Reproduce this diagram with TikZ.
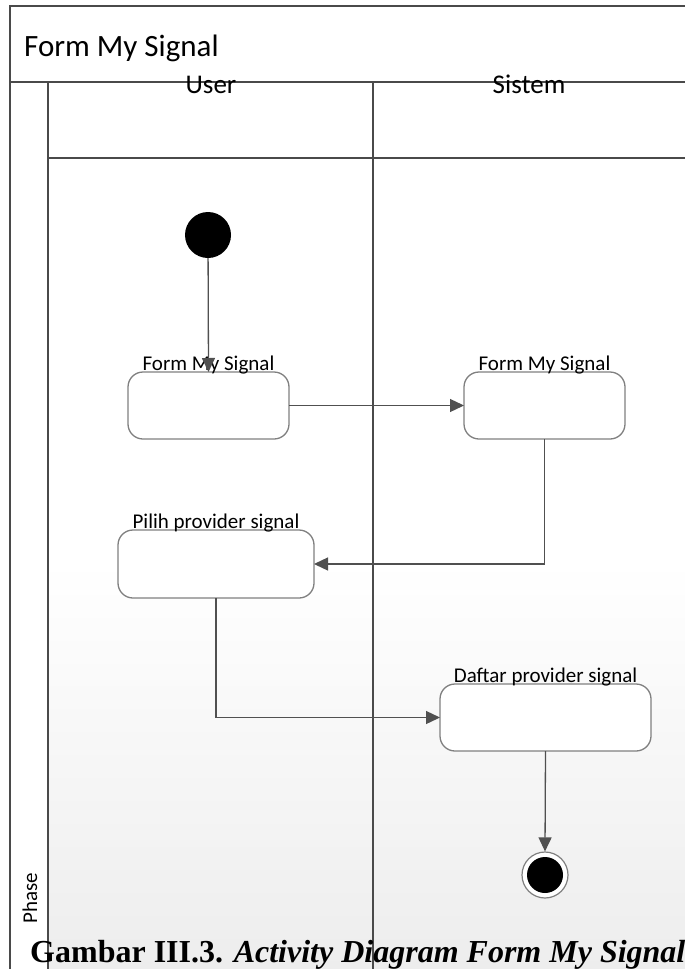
\documentclass[tikz,border=0pt]{standalone}
\usepackage{fontspec}
\setmainfont{Liberation Serif}
\newfontfamily\calfont{Carlito}
\usetikzlibrary{arrows.meta}
\definecolor{frameline}{HTML}{4A4A4A}
\definecolor{conn}{HTML}{505050}
\definecolor{boxline}{HTML}{808080}
\tikzset{
  frame/.style={draw=frameline, line width=1.3pt},
  actbox/.style={draw=boxline, line width=1.3pt, rounded corners=15pt, fill=white,
    inner sep=0pt, outer sep=0pt},
  actlabel/.style={font=\calfont\fontsize{21}{24}\selectfont, inner sep=0pt, anchor=base},
  flow/.style={draw=conn, line width=1.3pt, -{Triangle[length=14pt,width=13pt]}},
  startnode/.style={circle, fill=black, minimum size=46pt, inner sep=0pt},
  endring/.style={circle, draw=boxline, line width=1.2pt, fill=white, minimum size=46pt, inner sep=0pt},
}
\begin{document}
\begin{tikzpicture}[x=1pt,y=-1pt]
\useasboundingbox (0,0) rectangle (685,969);
% background gradient of the lanes
\shade[top color=white, bottom color=black!7] (48,560) rectangle (685,969);
% frame
\draw[frame] (10,969) -- (10,6) -- (685,6);
\draw[frame] (10,82) -- (685,82);
\draw[frame] (48,158) -- (685,158);
\draw[frame] (48,82) -- (48,969);
\draw[frame] (373,82) -- (373,969);
% titles
\node[font=\calfont\fontsize{31}{35}\selectfont, anchor=base west, inner sep=0pt] (title) at (24,56) {Form My Signal};
\node[font=\calfont\fontsize{27}{31}\selectfont, anchor=base, inner sep=0pt] (user) at (211,93) {User};
\node[font=\calfont\fontsize{27}{31}\selectfont, anchor=base, inner sep=0pt] (sistem) at (529,93) {Sistem};
\node[font=\calfont\fontsize{21}{24}\selectfont, rotate=90, anchor=base, inner sep=0pt] (phase) at (37,898) {Phase};
% start
\node[startnode] (start) at (208,235) {};
% actions
\node[actbox, minimum width=161pt, minimum height=67pt] (a1) at (208.5,405.5) {};
\node[actbox, minimum width=161pt, minimum height=67pt] (a2) at (544.5,405.5) {};
\node[actbox, minimum width=196pt, minimum height=68pt] (a3) at (216,564) {};
\node[actbox, minimum width=211pt, minimum height=67pt] (a4) at (545.5,717.5) {};
% final
\node[endring] (final) at (545,875) {};
\node[circle, fill=black, minimum size=36pt, inner sep=0pt] (finaldot) at (final) {};
% labels
\node[actlabel] (l1) at ([yshift=2pt]a1.north) {Form My Signal};
\node[actlabel] (l2) at ([yshift=2pt]a2.north) {Form My Signal};
\node[actlabel] (l3) at ([yshift=2pt]a3.north) {Pilih provider signal};
\node[actlabel] (l4) at ([yshift=2pt]a4.north) {Daftar provider signal};
% flows
\draw[flow] (start) -- (a1.north);
\draw[flow] (a1.east) -- (a2.west);
\draw[flow] (a2.south) |- (a3.east);
\draw[flow] (a3.south) |- (a4.west);
\draw[flow] (a4.south) -- (final.north);
% caption
\node[anchor=base west, inner sep=0pt, font=\fontsize{32}{36}\selectfont] (caption) at (30,962)
  {\textbf{Gambar III.3.} \textbf{\textit{Activity Diagram Form My Signal}}};
\end{tikzpicture}
\end{document}
